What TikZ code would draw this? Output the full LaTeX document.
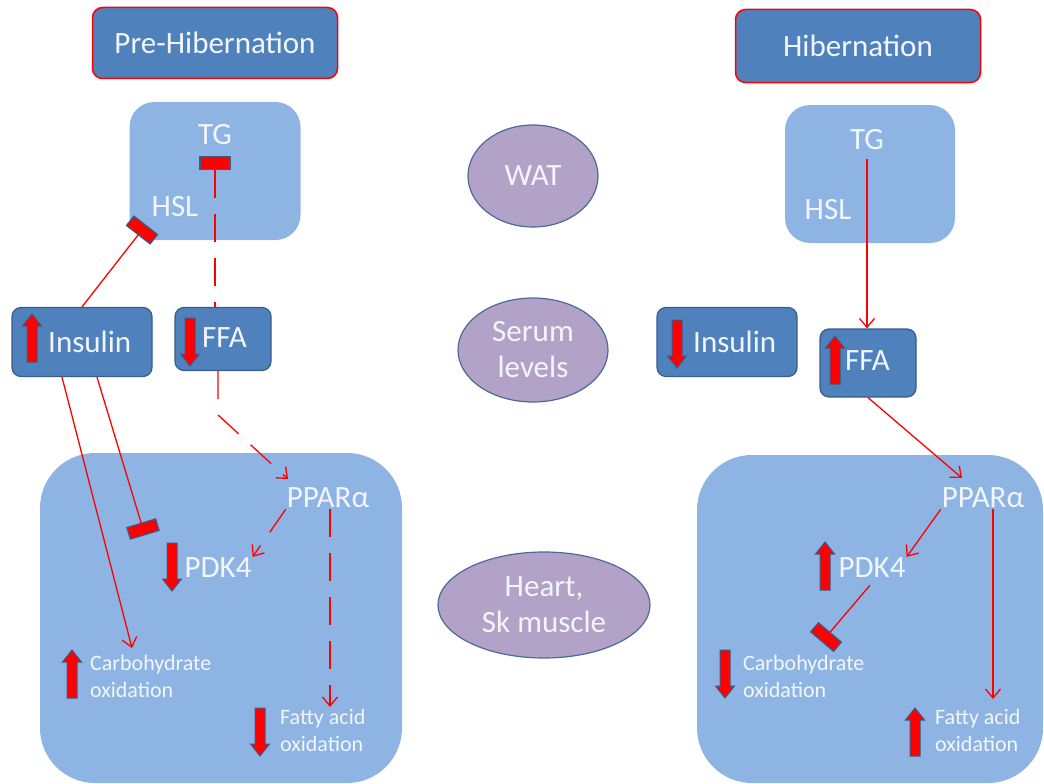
\documentclass[tikz,border=0pt]{standalone}
\usepackage{fontspec}
\setmainfont{Carlito}
\usepackage{xcolor}
\usetikzlibrary{positioning,arrows.meta,shapes.geometric,calc}
\definecolor{dkfill}{HTML}{4F81BD}
\definecolor{dkline}{HTML}{385D8A}
\definecolor{ltfill}{HTML}{8EB4E3}
\definecolor{orgfill}{HTML}{B3A2C7}
\definecolor{orgline}{HTML}{4A6A9A}
\definecolor{sig}{HTML}{FF0000}
\definecolor{txt}{HTML}{F2F6FC}
\newcommand{\lbf}{\fontsize{31}{36}\selectfont}
\newcommand{\smf}{\fontsize{22}{27}\selectfont}

\begin{document}
\begin{tikzpicture}[
  x=1pt, y=-1pt, text=txt, font=\lbf,
  hdr/.style={rounded corners=10pt, draw=sig, line width=1.5pt, fill=dkfill, minimum width=245pt, minimum height=71pt},
  dk/.style={rounded corners=9pt, draw=dkline, line width=1.2pt, fill=dkfill},
  lt/.style={rounded corners=25pt, fill=ltfill},
  org/.style={ellipse, draw=orgline, line width=1.2pt, fill=orgfill, inner sep=0pt, align=center},
  lbl/.style={inner sep=1pt},
  sml/.style={inner sep=0pt, font=\smf, align=left, anchor=west},
  act/.style={draw=sig, line width=1.3pt, -{Straight Barb[length=9pt, width=15pt]}},
  dact/.style={act, dash pattern=on 28pt off 16pt},
  inh/.style={draw=sig, line width=1.3pt},
  dinh/.style={inh, dash pattern=on 28pt off 16pt},
  bar/.style={rectangle, draw=dkline, line width=1.2pt, fill=sig, minimum width=12pt, minimum height=30pt, inner sep=0pt},
  hbar/.style={bar, minimum width=30pt, minimum height=13pt},
  blk/.style={draw=dkline, line width=1pt, fill=sig},
  upar/.pic={\path[blk] (-5,24) -- (-5,-12) -- (-9.5,-12) -- (0,-24) -- (9.5,-12) -- (5,-12) -- (5,24) -- cycle;},
  dnar/.pic={\path[blk] (-5,-24) -- (-5,12) -- (-9.5,12) -- (0,24) -- (9.5,12) -- (5,12) -- (5,-24) -- cycle;},
]
\useasboundingbox (0,0) rectangle (1044,784);

% headers
\node[hdr] (preH) at (215,43) {Pre-Hibernation};
\node[hdr, minimum height=73pt] (hibH) at (858,46) {Hibernation};

% tissues in the middle
\node[org, minimum width=130pt, minimum height=102pt] (wat) at (533,176) {WAT};
\node[org, minimum width=150pt, minimum height=104pt] (serum) at (533,350) {Serum\\levels};
\node[org, minimum width=212pt, minimum height=106pt] (heart) at (544,605) {Heart,\\Sk muscle};

% ---------------- pre-hibernation ----------------
\node[lt, minimum width=171pt, minimum height=138pt] (watL) at (215,171) {};
\node[lt, rounded corners=55pt, minimum width=362pt, minimum height=330pt] (musL) at (221,618) {};
\node[lbl] (tgL) at (215,135) {TG};
\node[lbl] (hslL) at (175,207) {HSL};
\node[dk, minimum width=140pt, minimum height=69pt] (insL) at (82,342) {};
\node[dk, minimum width=96pt, minimum height=63pt] (ffaL) at (223,339) {};
\node[lbl, inner sep=0pt, anchor=west] (insLt) at (48,342) {Insulin};
\node[lbl, inner sep=0pt, anchor=west] (ffaLt) at (202,338) {FFA};
\pic at (32,338) {upar};
\pic at (190,342) {dnar};
\node[lbl] (pparL) at (328,498) {PPARα};
\node[lbl] (pdkL) at (218,568) {PDK4};
\pic at (172,567) {dnar};
\node[sml] (carbL) at (90,676) {Carbohydrate\\oxidation};
\pic at (72,674) {upar};
\node[sml] (fatL) at (280,730) {Fatty acid\\oxidation};
\pic at (260,732) {dnar};
\coordinate (hslinL) at (142,230);
\coordinate (pdkinL) at (143,529);
\coordinate (carbinL) at (132,648);
\coordinate (bendL) at (218,415);
\coordinate (pparinL) at (288,479);
\coordinate (fatinL) at (330,707);
\node[hbar] (tgbarL) at (215,163) {};
\draw[dinh] (tgbarL.south) -- (tgbarL.south |- ffaL.north);
\draw[inh] (insL.north) -- (hslinL) node[bar, sloped, pos=1] (hslbarL) {};
\draw[inh] ($(insL.south)+(15,0)$) -- (pdkinL) node[bar, sloped, pos=1] (pdkbarL) {};
\draw[act] ($(insL.south)+(-20,0)$) -- (carbinL);
\draw[dact] (ffaL.south -| bendL) -- (bendL) -- (pparinL);
\draw[dact] (pparL.south west) -- (pdkL.north east);
\draw[dact] (pparL.south -| fatinL) -- (fatinL);

% ---------------- hibernation ----------------
\node[lt, minimum width=170pt, minimum height=138pt] (watR) at (870,174) {};
\node[lt, rounded corners=55pt, minimum width=346pt, minimum height=328pt] (musR) at (870,619) {};
\node[lbl] (tgR) at (867,140) {TG};
\node[lbl] (hslR) at (828,210) {HSL};
\node[dk, minimum width=140pt, minimum height=69pt] (insR) at (727,342) {};
\node[dk, minimum width=96pt, minimum height=68pt] (ffaR) at (868,363) {};
\node[lbl, inner sep=0pt, anchor=west] (insRt) at (693,342) {Insulin};
\node[lbl, inner sep=0pt, anchor=west] (ffaRt) at (845,361) {FFA};
\pic at (677,344) {dnar};
\pic at (835,360) {upar};
\node[lbl] (pparR) at (983,498) {PPARα};
\node[lbl] (pdkR) at (872,568) {PDK4};
\pic at (825,566) {upar};
\node[sml] (carbR) at (743,676) {Carbohydrate\\oxidation};
\pic at (725,674) {dnar};
\node[sml] (fatR) at (935,730) {Fatty acid\\oxidation};
\pic at (915,732) {upar};
\coordinate (pparinR) at (962,478);
\coordinate (carbinR) at (826,637);
\coordinate (fatinR) at (993,699);
\draw[act] ($(tgR.south)+(0,8)$) -- (tgR.south |- ffaR.north);
\draw[act] (ffaR.south) -- (pparinR);
\draw[act] (pparR.south west) -- (pdkR.north east);
\draw[inh] ($(pdkR.south)+(-2,6)$) -- (carbinR) node[bar, sloped, pos=1] (carbbarR) {};
\draw[act] (pparR.south -| fatinR) -- (fatinR);
\end{tikzpicture}
\end{document}
